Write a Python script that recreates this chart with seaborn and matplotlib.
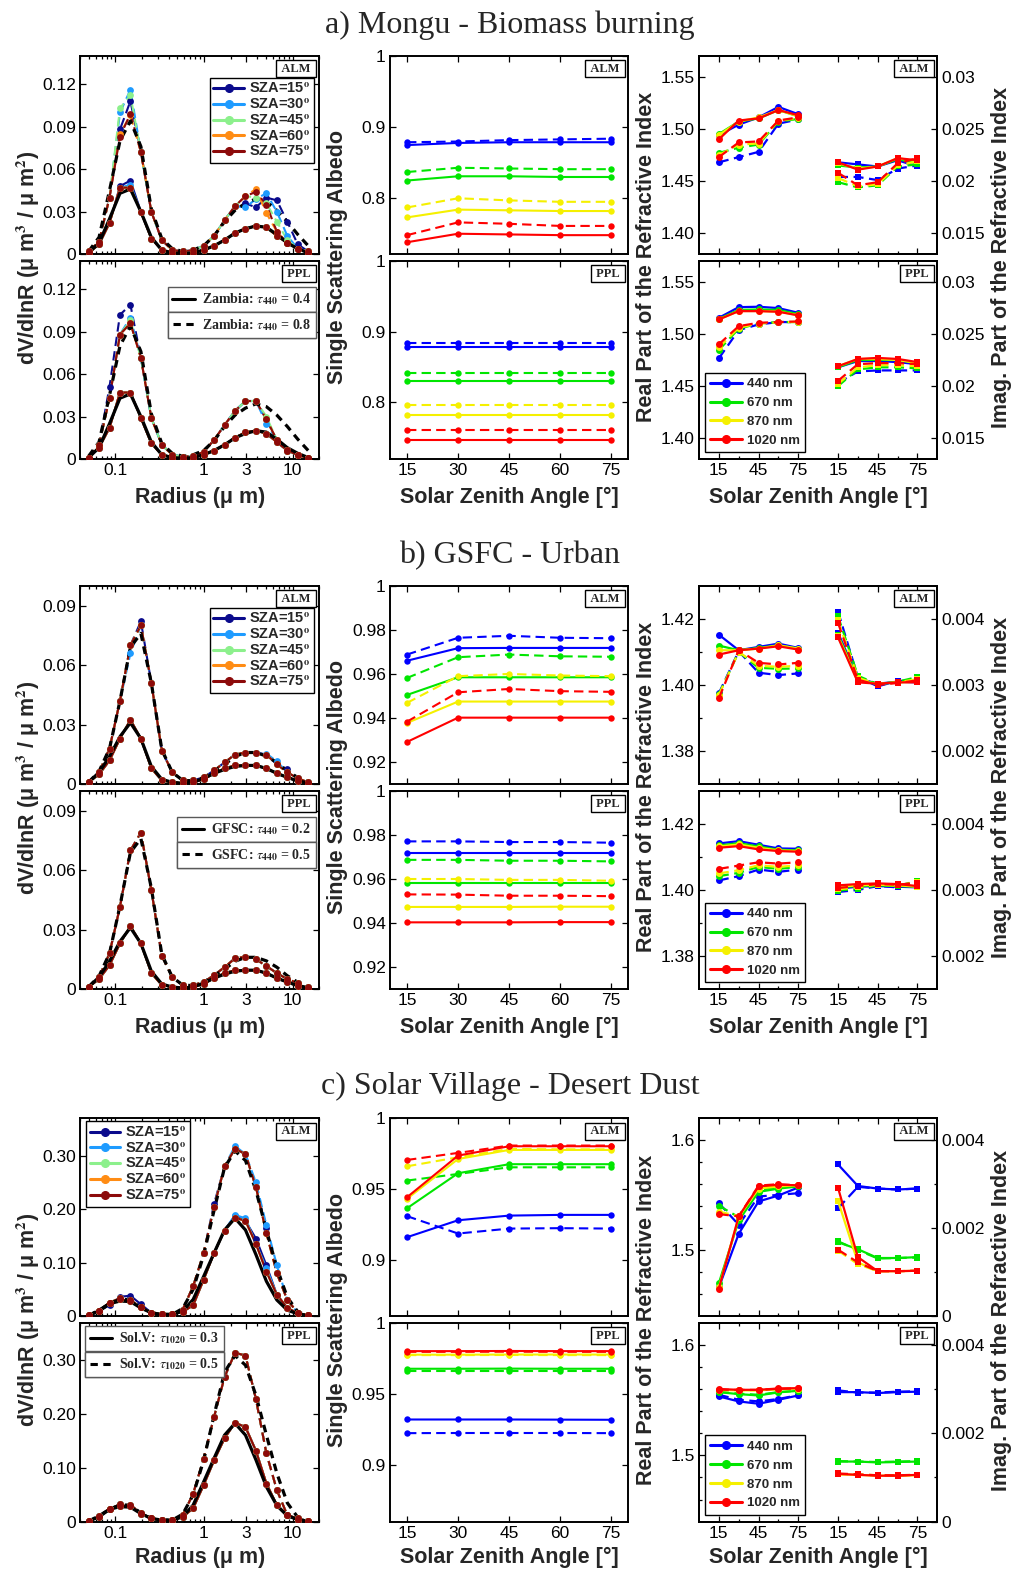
import numpy as np
import pandas as pd
import seaborn as sns
import matplotlib.pyplot as plt
from matplotlib.lines import Line2D
from matplotlib.ticker import NullFormatter, FixedLocator

# ---------------- data ----------------
RADIUS = [0.05, 0.065604, 0.086077, 0.112939, 0.148184, 0.194429, 0.255105, 0.334716,
          0.439173, 0.576227, 0.756052, 0.991996, 1.301571, 1.707757, 2.240702, 2.939966,
          3.857452, 5.061260, 6.640745, 8.713145, 11.432287, 15.0]
SZA = [15, 30, 45, 60, 75]
SZA_COLORS = ['#0a0a8c', '#1e9bff', '#8cf08c', '#ff8c14', '#8c0a0a']
WAVES = ['440 nm', '670 nm', '870 nm', '1020 nm']
WAVE_COLORS = ['#0000ff', '#00e600', '#f5f000', '#ff0000']

# a) Mongu - size distributions
A_TRUE_LO = [0.001, 0.008, 0.025, 0.043, 0.046, 0.030, 0.012, 0.003, 0.001, 0.0005, 0.001,
             0.003, 0.006, 0.010, 0.015, 0.018, 0.020, 0.019, 0.014, 0.008, 0.004, 0.001]
A_TRUE_HI = [0.002, 0.012, 0.045, 0.080, 0.094, 0.076, 0.032, 0.011, 0.004, 0.002, 0.003,
             0.006, 0.013, 0.023, 0.031, 0.036, 0.039, 0.037, 0.031, 0.023, 0.014, 0.006]
A_ALM_LO = [0.001, 0.007, 0.022, 0.047, 0.047, 0.030, 0.011, 0.003, 0.001, 0.0005, 0.001,
            0.003, 0.006, 0.010, 0.015, 0.018, 0.020, 0.019, 0.013, 0.008, 0.004, 0.001]
A_ALM_LO_SZA = {15: {3: 0.048, 4: 0.052}, 30: {4: 0.049}}
A_ALM_HI = [0.002, 0.009, 0.040, 0.083, 0.099, 0.072, 0.030, 0.010, 0.003, 0.002, 0.003,
            0.006, 0.013, 0.024, 0.034, 0.041, 0.044, 0.035, 0.016, 0.008, 0.004, 0.002]
A_ALM_HI_SZA = {15: {3: 0.088, 4: 0.108, 15: 0.036, 16: 0.033, 17: 0.040, 18: 0.038, 19: 0.023, 20: 0.007},
                30: {3: 0.100, 4: 0.116, 15: 0.033, 16: 0.039, 17: 0.043, 18: 0.030, 19: 0.013},
                45: {3: 0.103, 4: 0.112, 16: 0.040, 17: 0.036, 18: 0.023, 19: 0.010},
                60: {3: 0.085, 4: 0.098, 16: 0.046, 17: 0.029}}
A_PPL_LO = [0.001, 0.008, 0.022, 0.047, 0.047, 0.029, 0.011, 0.003, 0.001, 0.0005, 0.001,
            0.003, 0.006, 0.010, 0.015, 0.019, 0.020, 0.018, 0.012, 0.006, 0.003, 0.001]
A_PPL_LO_SZA = {}
A_PPL_HI = [0.001, 0.010, 0.043, 0.088, 0.096, 0.0715, 0.029, 0.010, 0.003, 0.0017, 0.002,
            0.005, 0.0135, 0.024, 0.034, 0.041, 0.041, 0.028, 0.0135, 0.0064, 0.003, 0.0005]
A_PPL_HI_SZA = {15: {2: 0.051, 3: 0.102, 4: 0.109}, 30: {4: 0.100, 17: 0.025}, 45: {4: 0.098, 17: 0.030}}

# b) GSFC - size distributions
B_TRUE_LO = [0.001, 0.006, 0.014, 0.024, 0.031, 0.023, 0.009, 0.0025, 0.001, 0.0005, 0.001,
             0.003, 0.0055, 0.0075, 0.009, 0.0095, 0.0095, 0.008, 0.0055, 0.0035, 0.0017, 0.0007]
B_TRUE_HI = [0.001, 0.0065, 0.018, 0.042, 0.069, 0.076, 0.051, 0.0175, 0.006, 0.002, 0.0017,
             0.0034, 0.0067, 0.010, 0.014, 0.016, 0.016, 0.0142, 0.011, 0.0067, 0.0034, 0.0012]
B_ALM_LO = [0.001, 0.005, 0.012, 0.023, 0.0325, 0.023, 0.008, 0.002, 0.001, 0.0005, 0.001,
            0.0025, 0.0055, 0.008, 0.0095, 0.0095, 0.0095, 0.008, 0.0055, 0.0035, 0.0015, 0.0007]
B_ALM_LO_SZA = {}
B_ALM_HI = [0.001, 0.006, 0.018, 0.042, 0.070, 0.080, 0.051, 0.017, 0.006, 0.002, 0.002,
            0.0035, 0.007, 0.011, 0.015, 0.016, 0.016, 0.015, 0.010, 0.006, 0.003, 0.001]
B_ALM_HI_SZA = {15: {5: 0.082, 18: 0.010, 19: 0.0075}, 30: {4: 0.066, 17: 0.0155, 18: 0.0115}}
B_PPL_LO = [0.001, 0.005, 0.012, 0.023, 0.0318, 0.023, 0.008, 0.002, 0.001, 0.0005, 0.001,
            0.0025, 0.0055, 0.008, 0.0095, 0.0095, 0.0095, 0.008, 0.0055, 0.0035, 0.0015, 0.0007]
B_PPL_LO_SZA = {}
B_PPL_HI = [0.001, 0.006, 0.018, 0.0415, 0.070, 0.079, 0.050, 0.0167, 0.006, 0.002, 0.002,
            0.0035, 0.007, 0.011, 0.0155, 0.0163, 0.015, 0.0116, 0.008, 0.005, 0.003, 0.001]
B_PPL_HI_SZA = {}

# c) Solar Village - size distributions
C_TRUE_LO = [0.001, 0.009, 0.023, 0.028, 0.027, 0.015, 0.006, 0.003, 0.003, 0.009, 0.031,
             0.074, 0.118, 0.161, 0.183, 0.161, 0.115, 0.065, 0.030, 0.011, 0.004, 0.001]
C_TRUE_HI = [0.001, 0.011, 0.023, 0.031, 0.031, 0.016, 0.006, 0.003, 0.003, 0.014, 0.050,
             0.114, 0.198, 0.278, 0.309, 0.291, 0.235, 0.161, 0.090, 0.035, 0.008, 0.001]
C_ALM_LO = [0.002, 0.010, 0.025, 0.031, 0.028, 0.016, 0.006, 0.003, 0.004, 0.008, 0.020,
            0.068, 0.118, 0.160, 0.184, 0.178, 0.135, 0.083, 0.040, 0.015, 0.005, 0.001]
C_ALM_LO_SZA = {15: {2: 0.020, 3: 0.036, 4: 0.038, 5: 0.022, 14: 0.188, 16: 0.145, 17: 0.095},
                30: {14: 0.189, 15: 0.183, 17: 0.090}}
C_ALM_HI = [0.001, 0.010, 0.025, 0.033, 0.030, 0.016, 0.006, 0.003, 0.004, 0.012, 0.056,
            0.118, 0.204, 0.280, 0.313, 0.303, 0.241, 0.155, 0.080, 0.030, 0.006, 0.001]
C_ALM_HI_SZA = {15: {12: 0.210, 17: 0.165}, 30: {14: 0.318, 16: 0.250, 17: 0.170, 18: 0.095}}
C_PPL_LO = [0.001, 0.009, 0.024, 0.030, 0.029, 0.015, 0.006, 0.003, 0.003, 0.009, 0.025,
            0.068, 0.114, 0.155, 0.184, 0.176, 0.132, 0.071, 0.031, 0.012, 0.004, 0.001]
C_PPL_LO_SZA = {}
C_PPL_HI = [0.001, 0.010, 0.024, 0.032, 0.031, 0.016, 0.006, 0.003, 0.003, 0.012, 0.052,
            0.1175, 0.195, 0.269, 0.314, 0.309, 0.228, 0.127, 0.059, 0.012, 0.006, 0.001]
C_PPL_HI_SZA = {}

# single scattering albedo, rows = 440/670/870/1020 nm, cols = SZA
A_SSA_ALM_LO = [[0.874, 0.877, 0.878, 0.878, 0.878], [0.824, 0.830, 0.830, 0.829, 0.829],
                [0.772, 0.783, 0.782, 0.781, 0.781], [0.737, 0.749, 0.748, 0.747, 0.747]]
A_SSA_ALM_HI = [[0.878, 0.879, 0.881, 0.882, 0.883], [0.836, 0.842, 0.841, 0.840, 0.840],
                [0.786, 0.799, 0.796, 0.794, 0.794], [0.747, 0.765, 0.763, 0.760, 0.760]]
A_SSA_PPL_LO = [[0.879, 0.879, 0.879, 0.879, 0.879], [0.830, 0.830, 0.830, 0.830, 0.830],
                [0.782, 0.782, 0.782, 0.782, 0.782], [0.747, 0.747, 0.747, 0.747, 0.747]]
A_SSA_PPL_HI = [[0.884, 0.884, 0.884, 0.884, 0.884], [0.841, 0.841, 0.841, 0.841, 0.841],
                [0.796, 0.796, 0.796, 0.796, 0.796], [0.761, 0.761, 0.761, 0.761, 0.761]]
B_SSA_ALM_LO = [[0.9660, 0.9717, 0.9718, 0.9718, 0.9718], [0.9505, 0.9585, 0.9585, 0.9585, 0.9585],
                [0.9378, 0.9475, 0.9475, 0.9475, 0.9475], [0.9292, 0.9402, 0.9402, 0.9402, 0.9402]]
B_SSA_ALM_HI = [[0.9688, 0.9764, 0.9773, 0.9764, 0.9762], [0.9582, 0.9676, 0.9688, 0.9680, 0.9678],
                [0.9469, 0.9590, 0.9600, 0.9593, 0.9590], [0.9384, 0.9517, 0.9532, 0.9522, 0.9519]]
B_SSA_PPL_LO = [[0.9717, 0.9717, 0.9717, 0.9717, 0.9717], [0.9584, 0.9584, 0.9584, 0.9584, 0.9584],
                [0.9473, 0.9473, 0.9473, 0.9474, 0.9474], [0.9403, 0.9403, 0.9403, 0.9404, 0.9404]]
B_SSA_PPL_HI = [[0.9771, 0.9771, 0.9768, 0.9768, 0.9765], [0.9687, 0.9687, 0.9683, 0.9683, 0.9680],
                [0.9600, 0.9600, 0.9596, 0.9596, 0.9592], [0.9530, 0.9529, 0.9524, 0.9524, 0.9522]]
C_SSA_ALM_LO = [[0.9158, 0.9278, 0.9311, 0.9316, 0.9316], [0.9363, 0.9611, 0.9675, 0.9675, 0.9675],
                [0.9430, 0.9712, 0.9776, 0.9776, 0.9776], [0.9441, 0.9736, 0.9802, 0.9802, 0.9802]]
C_SSA_ALM_HI = [[0.9307, 0.9184, 0.9219, 0.9222, 0.9219], [0.9559, 0.9606, 0.9653, 0.9653, 0.9653],
                [0.9660, 0.9724, 0.9783, 0.9780, 0.9780], [0.9705, 0.9755, 0.9807, 0.9807, 0.9807]]
C_SSA_PPL_LO = [[0.9319, 0.9319, 0.9319, 0.9318, 0.9317], [0.9676, 0.9676, 0.9677, 0.9676, 0.9676],
                [0.9775, 0.9775, 0.9776, 0.9776, 0.9776], [0.9800, 0.9800, 0.9801, 0.9800, 0.9800]]
C_SSA_PPL_HI = [[0.9223, 0.9224, 0.9224, 0.9224, 0.9223], [0.9657, 0.9657, 0.9657, 0.9657, 0.9657],
                [0.9772, 0.9772, 0.9773, 0.9772, 0.9772], [0.9795, 0.9795, 0.9796, 0.9795, 0.9795]]

# real part of the refractive index
A_NR_ALM_LO = [[1.494, 1.504, 1.511, 1.521, 1.514], [1.495, 1.507, 1.510, 1.518, 1.512],
               [1.494, 1.507, 1.511, 1.518, 1.512], [1.490, 1.508, 1.510, 1.518, 1.513]]
A_NR_ALM_HI = [[1.468, 1.473, 1.478, 1.505, 1.509], [1.477, 1.482, 1.485, 1.507, 1.5095],
               [1.475, 1.485, 1.486, 1.508, 1.510], [1.473, 1.487, 1.488, 1.508, 1.511]]
A_NR_PPL_LO = [[1.5155, 1.5257, 1.5261, 1.5248, 1.5203], [1.5145, 1.5230, 1.5235, 1.5230, 1.5190],
               [1.5140, 1.5220, 1.5220, 1.5215, 1.5180], [1.5139, 1.5219, 1.5219, 1.5213, 1.5178]]
A_NR_PPL_HI = [[1.4766, 1.5037, 1.5091, 1.5114, 1.5114], [1.4846, 1.5050, 1.5100, 1.5114, 1.5114],
               [1.4870, 1.5060, 1.5100, 1.5110, 1.5117], [1.4900, 1.5075, 1.5107, 1.5114, 1.5120]]
B_NR_ALM_LO = [[1.4152, 1.4105, 1.4115, 1.4125, 1.4112], [1.4119, 1.4105, 1.4112, 1.4120, 1.4110],
               [1.4105, 1.4105, 1.4110, 1.4120, 1.4110], [1.4092, 1.4105, 1.4110, 1.4117, 1.4107]]
B_NR_ALM_HI = [[1.3975, 1.4102, 1.4037, 1.4030, 1.4035], [1.3972, 1.4100, 1.4052, 1.4049, 1.4050],
               [1.3970, 1.4100, 1.4058, 1.4055, 1.4058], [1.3960, 1.4105, 1.4067, 1.4062, 1.4067]]
B_NR_PPL_LO = [[1.4141, 1.4148, 1.4137, 1.4126, 1.4125], [1.4135, 1.4142, 1.4132, 1.4122, 1.4120],
               [1.4132, 1.4138, 1.4128, 1.4120, 1.4118], [1.4128, 1.4133, 1.4123, 1.4118, 1.4116]]
B_NR_PPL_HI = [[1.4029, 1.4042, 1.4062, 1.4055, 1.4062], [1.4042, 1.4052, 1.4070, 1.4064, 1.4070],
               [1.4050, 1.4060, 1.4075, 1.4070, 1.4075], [1.4064, 1.4074, 1.4084, 1.4080, 1.4084]]
C_NR_ALM_LO = [[1.466, 1.5148, 1.5443, 1.5497, 1.557], [1.4699, 1.527, 1.553, 1.556, 1.558],
               [1.466, 1.530, 1.556, 1.558, 1.559], [1.465, 1.5307, 1.558, 1.5595, 1.559]]
C_NR_ALM_HI = [[1.5428, 1.523, 1.5488, 1.5503, 1.5518], [1.5404, 1.530, 1.555, 1.557, 1.5585],
               [1.535, 1.531, 1.557, 1.559, 1.559], [1.5328, 1.5307, 1.5587, 1.560, 1.559]]
C_NR_PPL_LO = [[1.5533, 1.5488, 1.5467, 1.5503, 1.5542], [1.5572, 1.5554, 1.5542, 1.5570, 1.5584],
               [1.5592, 1.5588, 1.5588, 1.5598, 1.5604], [1.5600, 1.5593, 1.5593, 1.5605, 1.5608]]
C_NR_PPL_HI = [[1.5548, 1.5503, 1.5488, 1.5510, 1.5545], [1.5575, 1.5558, 1.5548, 1.5572, 1.5586],
               [1.5590, 1.5590, 1.5590, 1.5600, 1.5600], [1.5595, 1.5592, 1.5592, 1.5602, 1.5605]]

# imaginary part of the refractive index
A_NI_ALM_LO = [[0.0218, 0.0216, 0.0214, 0.0220, 0.0214], [0.0215, 0.0213, 0.0214, 0.0221, 0.0217],
               [0.0217, 0.0212, 0.0214, 0.0222, 0.0219], [0.0218, 0.0211, 0.0214, 0.0222, 0.0220]]
A_NI_ALM_HI = [[0.0204, 0.0204, 0.0201, 0.0212, 0.0215], [0.0199, 0.0194, 0.0196, 0.0214, 0.0216],
               [0.0203, 0.0195, 0.0197, 0.0215, 0.0219], [0.0208, 0.0196, 0.0199, 0.0217, 0.0222]]
A_NI_PPL_LO = [[0.0218, 0.0224, 0.0224, 0.0223, 0.0221], [0.0218, 0.0225, 0.0225, 0.0225, 0.0222],
               [0.0219, 0.0226, 0.0226, 0.0225, 0.0222], [0.0219, 0.0226, 0.0227, 0.0226, 0.0223]]
A_NI_PPL_HI = [[0.0203, 0.0214, 0.0215, 0.0215, 0.0215], [0.0200, 0.0216, 0.0218, 0.0218, 0.0217],
               [0.0202, 0.0218, 0.0220, 0.0220, 0.0219], [0.0205, 0.0221, 0.0222, 0.0222, 0.0221]]
B_NI_ALM_LO = [[0.00379, 0.00310, 0.00302, 0.00305, 0.00304], [0.00376, 0.00308, 0.00302, 0.00304, 0.00306],
               [0.00374, 0.00306, 0.00302, 0.00304, 0.00305], [0.00372, 0.00304, 0.00302, 0.00304, 0.00304]]
B_NI_ALM_HI = [[0.00411, 0.00312, 0.00298, 0.00306, 0.00307], [0.00404, 0.00314, 0.00301, 0.00305, 0.00312],
               [0.00398, 0.00311, 0.00301, 0.00304, 0.00309], [0.00394, 0.00308, 0.00300, 0.00303, 0.00307]]
B_NI_PPL_LO = [[0.00302, 0.00305, 0.00306, 0.00305, 0.00304], [0.00304, 0.00306, 0.00307, 0.00306, 0.00305],
               [0.00305, 0.00307, 0.00308, 0.00307, 0.00305], [0.00307, 0.00309, 0.00310, 0.00309, 0.00306]]
B_NI_PPL_HI = [[0.00297, 0.00300, 0.00306, 0.00304, 0.00309], [0.00299, 0.00302, 0.00307, 0.00306, 0.00314],
               [0.00301, 0.00304, 0.00308, 0.00307, 0.00312], [0.00303, 0.00306, 0.00309, 0.00308, 0.00311]]
C_NI_ALM_LO = [[0.00345, 0.00296, 0.00290, 0.00288, 0.00290], [0.00168, 0.00152, 0.00132, 0.00132, 0.00134],
               [0.00262, 0.00122, 0.00102, 0.00102, 0.00103], [0.00292, 0.00134, 0.00102, 0.00102, 0.00103]]
C_NI_ALM_HI = [[0.00245, 0.00294, 0.00290, 0.00288, 0.00290], [0.00170, 0.00150, 0.00131, 0.00132, 0.00133],
               [0.00149, 0.00118, 0.00102, 0.00102, 0.00103], [0.00151, 0.00122, 0.00102, 0.00102, 0.00103]]
C_NI_PPL_LO = [[0.00293, 0.00293, 0.00291, 0.00293, 0.00294], [0.00136, 0.00136, 0.00134, 0.00135, 0.00136],
               [0.00107, 0.00106, 0.00104, 0.00104, 0.00105], [0.00108, 0.00106, 0.00104, 0.00104, 0.00106]]
C_NI_PPL_HI = [[0.00297, 0.00292, 0.00292, 0.00294, 0.00295], [0.00137, 0.00136, 0.00135, 0.00136, 0.00137],
               [0.00108, 0.00107, 0.00105, 0.00105, 0.00106], [0.00109, 0.00107, 0.00105, 0.00105, 0.00106]]

TITLES = ['a) Mongu - Biomass burning', 'b) GSFC - Urban', 'c) Solar Village - Desert Dust']
TAU_LABELS = [[r'Zambia: $\tau_{\mathbf{440}}$ = 0.4', r'Zambia: $\tau_{\mathbf{440}}$ = 0.8'],
              [r'GFSC: $\tau_{\mathbf{440}}$ = 0.2', r'GSFC: $\tau_{\mathbf{440}}$ = 0.5'],
              [r'Sol.V: $\tau_{\mathbf{1020}}$ = 0.3', r'Sol.V: $\tau_{\mathbf{1020}}$ = 0.5']]

# ---------------- style ----------------
sns.set_style('ticks', {'axes.edgecolor': 'black', 'xtick.color': 'black', 'ytick.color': 'black',
                        'xtick.direction': 'in', 'ytick.direction': 'in'})
plt.rcParams['font.family'] = ['Liberation Sans', 'DejaVu Sans']
plt.rcParams['mathtext.fontset'] = 'stix'

W, H = 1014, 1572
fig = plt.figure(figsize=(W / 100, H / 100), dpi=100)

COLS = [(80, 319.3), (390, 628.3), (699, 937.3)]
ROWS = [[(55.7, 254.3), (261, 459)], [(585.7, 784.3), (791, 989)], [(1118.3, 1316), (1322.7, 1521.7)]]
TITLE_Y = [25, 556, 1086]
XLAB_Y = [497, 1027, 1557]
TICK_FS = 12.5
LAB_FS = 15.5
DASH = (0, (4.5, 2.5))
BLACK_DASH = (0, (2.4, 1.8))
LKW = dict(estimator=None, errorbar=None, sort=False, legend=False)


def px_axes(col, row):
    (x0, x1), (y0, y1) = col, row
    return fig.add_axes([x0 / W, 1 - y1 / H, (x1 - x0) / W, (y1 - y0) / H])


def frame(ax, top_row, right=True):
    for s in ax.spines.values():
        s.set_linewidth(1.4)
    ax.tick_params(which='both', direction='in', top=True, right=right, labelsize=TICK_FS,
                   length=4, width=0.9, pad=3)
    ax.tick_params(which='minor', length=2.5)
    if top_row:
        ax.tick_params(labelbottom=False)
    ax.set_xlabel('')
    ax.set_ylabel('')


def tag(ax, text):
    ax.text(0.975, 0.965, ' ' + text + ' ', transform=ax.transAxes, ha='right', va='top',
            family='Liberation Serif', weight='bold', size=9, zorder=10,
            bbox=dict(boxstyle='square,pad=0.2', fc='white', ec='black', lw=1.0))


def with_over(base, over):
    vals = list(base)
    for k, v in over.items():
        vals[k] = v
    return vals


def draw_psd(ax, true_lo, true_hi, ret_lo, over_lo, ret_hi, over_hi):
    ax.set_xscale('log')
    dots = []
    for sza, col in zip(SZA, SZA_COLORS):
        ylo = with_over(ret_lo, over_lo.get(sza, {}))
        yhi = with_over(ret_hi, over_hi.get(sza, {}))
        sns.lineplot(x=RADIUS, y=ylo, color=col, lw=1.5, ax=ax, zorder=2, **LKW)
        sns.lineplot(x=RADIUS, y=yhi, color=col, lw=1.5, linestyle=DASH, ax=ax, zorder=2, **LKW)
        dots.append((col, ylo, yhi))
    sns.lineplot(x=RADIUS, y=true_lo, color='black', lw=2.3, ax=ax, zorder=3, **LKW)
    sns.lineplot(x=RADIUS, y=true_hi, color='black', lw=2.3, linestyle=BLACK_DASH, ax=ax, zorder=3, **LKW)
    for col, ylo, yhi in dots:
        sns.scatterplot(x=RADIUS, y=ylo, color=col, s=24, linewidth=0, ax=ax, zorder=4, legend=False)
        sns.scatterplot(x=RADIUS, y=yhi, color=col, s=24, linewidth=0, ax=ax, zorder=4, legend=False)
    ax.set_xlim(0.04, 20)
    ax.set_xticks([0.1, 1, 3, 10])
    ax.set_xticklabels(['0.1', '1', '3', '10'])
    ax.xaxis.set_minor_formatter(NullFormatter())


def draw_ssa(ax, lo, hi):
    for col, ylo, yhi in zip(WAVE_COLORS, lo, hi):
        sns.lineplot(x=SZA, y=ylo, color=col, lw=1.5, marker='o', markersize=4.6, markeredgewidth=0,
                     ax=ax, **LKW)
        sns.lineplot(x=SZA, y=yhi, color=col, lw=1.5, linestyle=DASH, marker='o', markersize=4.6,
                     markeredgewidth=0, ax=ax, **LKW)
    ax.set_xlim(10, 80)
    ax.set_xticks(SZA)
    ax.set_xticklabels([str(s) for s in SZA])


IMAG_SHIFT = 90


def draw_ri(ax, nr_lo, nr_hi, ni_lo, ni_hi):
    ax2 = ax.twinx()
    xi = [s + IMAG_SHIFT for s in SZA]
    for col, a, b in zip(WAVE_COLORS, nr_lo, nr_hi):
        sns.lineplot(x=SZA, y=a, color=col, lw=1.6, marker='o', markersize=5, markeredgewidth=0, ax=ax, **LKW)
        sns.lineplot(x=SZA, y=b, color=col, lw=1.6, linestyle=DASH, marker='o', markersize=5,
                     markeredgewidth=0, ax=ax, **LKW)
    for col, a, b in zip(WAVE_COLORS, ni_lo, ni_hi):
        sns.lineplot(x=xi, y=a, color=col, lw=1.6, marker='s', markersize=4.6, markeredgewidth=0, ax=ax2, **LKW)
        sns.lineplot(x=xi, y=b, color=col, lw=1.6, linestyle=DASH, marker='s', markersize=4.6,
                     markeredgewidth=0, ax=ax2, **LKW)
    ax.set_xlim(0, 180)
    ticks = [15, 45, 75] + [15 + IMAG_SHIFT, 45 + IMAG_SHIFT, 75 + IMAG_SHIFT]
    ax.set_xticks(ticks)
    ax.set_xticklabels(['15', '45', '75', '15', '45', '75'])
    ax.xaxis.set_minor_locator(FixedLocator([30, 60, 30 + IMAG_SHIFT, 60 + IMAG_SHIFT]))
    return ax2


PSD = [
    (A_TRUE_LO, A_TRUE_HI, [(A_ALM_LO, A_ALM_LO_SZA, A_ALM_HI, A_ALM_HI_SZA), (A_PPL_LO, A_PPL_LO_SZA, A_PPL_HI, A_PPL_HI_SZA)]),
    (B_TRUE_LO, B_TRUE_HI, [(B_ALM_LO, B_ALM_LO_SZA, B_ALM_HI, B_ALM_HI_SZA), (B_PPL_LO, B_PPL_LO_SZA, B_PPL_HI, B_PPL_HI_SZA)]),
    (C_TRUE_LO, C_TRUE_HI, [(C_ALM_LO, C_ALM_LO_SZA, C_ALM_HI, C_ALM_HI_SZA), (C_PPL_LO, C_PPL_LO_SZA, C_PPL_HI, C_PPL_HI_SZA)]),
]
SSA = [[(A_SSA_ALM_LO, A_SSA_ALM_HI), (A_SSA_PPL_LO, A_SSA_PPL_HI)],
       [(B_SSA_ALM_LO, B_SSA_ALM_HI), (B_SSA_PPL_LO, B_SSA_PPL_HI)],
       [(C_SSA_ALM_LO, C_SSA_ALM_HI), (C_SSA_PPL_LO, C_SSA_PPL_HI)]]
RI = [[(A_NR_ALM_LO, A_NR_ALM_HI, A_NI_ALM_LO, A_NI_ALM_HI), (A_NR_PPL_LO, A_NR_PPL_HI, A_NI_PPL_LO, A_NI_PPL_HI)],
      [(B_NR_ALM_LO, B_NR_ALM_HI, B_NI_ALM_LO, B_NI_ALM_HI), (B_NR_PPL_LO, B_NR_PPL_HI, B_NI_PPL_LO, B_NI_PPL_HI)],
      [(C_NR_ALM_LO, C_NR_ALM_HI, C_NI_ALM_LO, C_NI_ALM_HI), (C_NR_PPL_LO, C_NR_PPL_HI, C_NI_PPL_LO, C_NI_PPL_HI)]]

PSD_Y = [((0, 0.14), [0, 0.03, 0.06, 0.09, 0.12], ['0', '0.03', '0.06', '0.09', '0.12']),
         ((0, 0.10), [0, 0.03, 0.06, 0.09], ['0', '0.03', '0.06', '0.09']),
         ((0, 0.37), [0, 0.1, 0.2, 0.3], ['0', '0.10', '0.20', '0.30'])]
SSA_Y = [((0.72, 1.0), [0.8, 0.9, 1.0], ['0.8', '0.9', '1']),
         ((0.91, 1.0), [0.92, 0.94, 0.96, 0.98, 1.0], ['0.92', '0.94', '0.96', '0.98', '1']),
         ((0.86, 1.0), [0.9, 0.95, 1.0], ['0.9', '0.95', '1'])]
NR_Y = [((1.38, 1.57), [1.40, 1.45, 1.50, 1.55], ['1.40', '1.45', '1.50', '1.55'], []),
        ((1.37, 1.43), [1.38, 1.40, 1.42], ['1.38', '1.40', '1.42'], [1.39, 1.41]),
        ((1.44, 1.62), [1.5, 1.6], ['1.5', '1.6'], [1.46, 1.48, 1.52, 1.54, 1.56, 1.58])]
NI_Y = [((0.013, 0.032), [0.015, 0.02, 0.025, 0.03], ['0.015', '0.02', '0.025', '0.03'], []),
        ((0.0015, 0.0045), [0.002, 0.003, 0.004], ['0.002', '0.003', '0.004'], []),
        ((0.0, 0.0045), [0, 0.002, 0.004], ['0', '0.002', '0.004'], [0.001, 0.003])]

SZA_LEG_POS = [('upper right', (0.978, 0.89)), ('upper right', (0.978, 0.89)), ('upper left', (0.025, 0.985))]
TAU_LEG_POS = [('upper right', [(0.985, 0.87), (0.985, 0.74)]),
               ('upper right', [(0.985, 0.87), (0.985, 0.74)]),
               ('upper left', [(0.022, 0.985), (0.022, 0.855)])]

for si in range(3):
    rows = ROWS[si]
    true_lo, true_hi, psd_rows = PSD[si]
    for ri in range(2):
        top = ri == 0
        mode = 'ALM' if top else 'PPL'

        # size distribution
        ax = px_axes(COLS[0], rows[ri])
        ret_lo, over_lo, ret_hi, over_hi = psd_rows[ri]
        draw_psd(ax, true_lo, true_hi, ret_lo, over_lo, ret_hi, over_hi)
        ylim, yt, ytl = PSD_Y[si]
        ax.set_ylim(*ylim)
        ax.set_yticks(yt)
        ax.set_yticklabels(ytl)
        frame(ax, top)
        tag(ax, mode)
        if top:
            handles = [Line2D([0], [0], color=c, lw=2.2, marker='o', ms=5.5) for c in SZA_COLORS]
            loc, anchor = SZA_LEG_POS[si]
            ax.legend(handles, ['SZA=%d$^{\\mathbf{o}}$' % s for s in SZA], loc=loc, bbox_to_anchor=anchor,
                      prop={'weight': 'bold', 'size': 10.5}, frameon=True, fancybox=False, edgecolor='black',
                      handlelength=2.1, handletextpad=0.35, borderpad=0.25, labelspacing=0.08,
                      borderaxespad=0.0, framealpha=1)
        else:
            loc, anchors = TAU_LEG_POS[si]
            styles = ['-', BLACK_DASH]
            for k in range(2):
                leg = ax.legend([Line2D([0], [0], color='black', lw=2.2, linestyle=styles[k])],
                                [TAU_LABELS[si][k]], loc=loc, bbox_to_anchor=anchors[k],
                                prop={'family': 'Liberation Serif', 'weight': 'bold', 'size': 10},
                                frameon=True, fancybox=False, edgecolor='0.35', handlelength=1.6,
                                handletextpad=0.5, borderpad=0.35, borderaxespad=0.0, framealpha=1)
                ax.add_artist(leg)

        # single scattering albedo
        ax = px_axes(COLS[1], rows[ri])
        lo, hi = SSA[si][ri]
        draw_ssa(ax, lo, hi)
        ylim, yt, ytl = SSA_Y[si]
        ax.set_ylim(*ylim)
        ax.set_yticks(yt)
        ax.set_yticklabels(ytl)
        frame(ax, top)
        tag(ax, mode)

        # refractive index
        ax = px_axes(COLS[2], rows[ri])
        nr_lo, nr_hi, ni_lo, ni_hi = RI[si][ri]
        ax2 = draw_ri(ax, nr_lo, nr_hi, ni_lo, ni_hi)
        ylim, yt, ytl, ymin = NR_Y[si]
        ax.set_ylim(*ylim)
        ax.set_yticks(yt)
        ax.set_yticklabels(ytl)
        ax.yaxis.set_minor_locator(FixedLocator(ymin))
        ylim, yt, ytl, ymin = NI_Y[si]
        ax2.set_ylim(*ylim)
        ax2.set_yticks(yt)
        ax2.set_yticklabels(ytl)
        ax2.yaxis.set_minor_locator(FixedLocator(ymin))
        frame(ax, top, right=False)
        frame(ax2, top, right=True)
        ax2.tick_params(which='both', left=False, labelleft=False, top=False, bottom=False)
        tag(ax2, mode)
        if not top:
            handles = [Line2D([0], [0], color=c, lw=2.2, marker='o', ms=5.5) for c in WAVE_COLORS]
            ax2.legend(handles, WAVES, loc='lower left', bbox_to_anchor=(0.025, 0.035),
                       prop={'weight': 'bold', 'size': 9.5}, frameon=True, fancybox=False,
                       edgecolor='black', handlelength=2.4, handletextpad=0.35, borderpad=0.4,
                       labelspacing=0.5, borderaxespad=0.0, framealpha=1)

    # section titles and shared labels
    fig.text(510 / W, 1 - TITLE_Y[si] / H, TITLES[si], ha='center', va='center',
             family='Liberation Serif', size=23)
    yc = 1 - (rows[0][0] + rows[1][1]) / 2 / H
    fig.text(28 / W, yc, 'dV/dlnR (μ m$^{\\mathbf{3}}$ / μ m$^{\\mathbf{2}}$)', rotation=90,
             ha='center', va='center', weight='bold', size=LAB_FS)
    fig.text(338 / W, yc, 'Single Scattering Albedo', rotation=90, ha='center', va='center',
             weight='bold', size=LAB_FS)
    fig.text(646 / W, yc, 'Real Part of the Refractive Index', rotation=90, ha='center',
             va='center', weight='bold', size=LAB_FS)
    fig.text(1001 / W, yc, 'Imag. Part of the Refractive Index', rotation=90, ha='center',
             va='center', weight='bold', size=LAB_FS)
    xy = 1 - XLAB_Y[si] / H
    fig.text(200 / W, xy, 'Radius (μ m)', ha='center', va='center', weight='bold', size=LAB_FS)
    fig.text(509 / W, xy, 'Solar Zenith Angle [°]', ha='center', va='center', weight='bold', size=LAB_FS)
    fig.text(818 / W, xy, 'Solar Zenith Angle [°]', ha='center', va='center', weight='bold', size=LAB_FS)

fig.savefig('out.png', dpi=100)
